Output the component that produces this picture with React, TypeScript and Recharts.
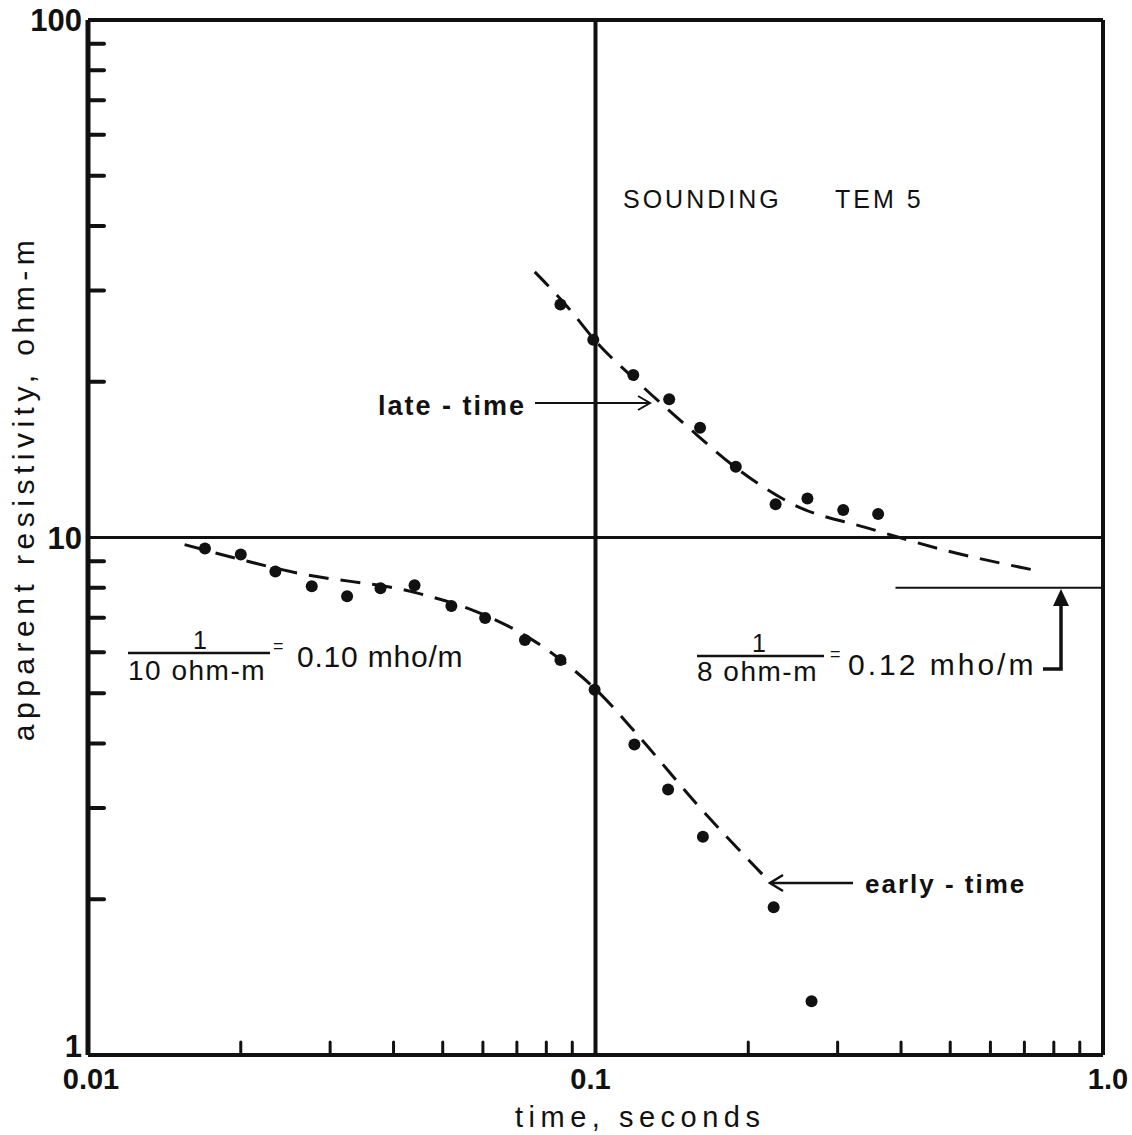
import { ComposedChart, Line, Scatter, XAxis, YAxis, ReferenceLine } from 'recharts';

// measured points, early-time apparent resistivity
const earlyT = [0.017, 0.02, 0.0234, 0.0276, 0.0324, 0.0377, 0.044, 0.052, 0.0606, 0.0726, 0.0853, 0.0996, 0.1193, 0.139, 0.1628, 0.2244, 0.2665];
const earlyRho = [9.52, 9.27, 8.6, 8.05, 7.7, 7.98, 8.09, 7.37, 6.99, 6.34, 5.8, 5.08, 3.98, 3.26, 2.64, 1.93, 1.27];

// measured points, late-time apparent resistivity
const lateT = [0.0853, 0.099, 0.1187, 0.1397, 0.1607, 0.189, 0.2264, 0.2616, 0.3077, 0.3605];
const lateRho = [28.2, 24.1, 20.6, 18.5, 16.3, 13.7, 11.6, 11.9, 11.3, 11.1];

// hand-drawn dashed fits
const earlyFitT = [0.0155, 0.026, 0.0448, 0.0587, 0.0736, 0.0881, 0.1003, 0.1209, 0.1585, 0.2174];
const earlyFitRho = [9.69, 8.53, 7.8, 7.17, 6.42, 5.67, 5.08, 4.16, 3.05, 2.19];
const lateFitT = [0.0759, 0.0881, 0.1003, 0.1209, 0.1515, 0.1899, 0.249, 0.3415, 0.49, 0.736];
const lateFitRho = [32.6, 27.9, 23.9, 20.0, 16.4, 13.6, 11.5, 10.45, 9.44, 8.64];

// 8 ohm-m asymptote
const asymT = [0.39, 1];
const asymRho = 8;

const xTicks = [0.01, 0.02, 0.03, 0.04, 0.05, 0.06, 0.07, 0.08, 0.09, 0.1, 0.2, 0.3, 0.4, 0.5, 0.6, 0.7, 0.8, 0.9, 1];
const yTicks = [1, 2, 3, 4, 5, 6, 7, 8, 9, 10, 20, 30, 40, 50, 60, 70, 80, 90, 100];
const xLabels: Record<string, string> = { '0.01': '0.01', '0.1': '0.1', '1': '1.0' };
const yLabels: Record<string, string> = { '1': '1', '10': '10', '100': '100' };

const zip = (ts: number[], rs: number[]) => ts.map((t, i) => ({ t, rho: rs[i] }));
const earlyPts = zip(earlyT, earlyRho);
const latePts = zip(lateT, lateRho);
const earlyFit = zip(earlyFitT, earlyFitRho);
const lateFit = zip(lateFitT, lateFitRho);

const FONT = '"Liberation Sans", Arial, sans-serif';
const INK = '#111';

function XTick({ x, y, payload }: any) {
  const label = xLabels[String(payload.value)];
  if (label) {
    const dx = payload.value === 1 ? 5 : payload.value === 0.1 ? -5 : 3;
    return (
      <text x={x + dx} y={y + 34} textAnchor="middle" fontFamily={FONT} fontWeight="bold" fontSize={29} fill={INK}>
        {label}
      </text>
    );
  }
  return <line x1={x} y1={y} x2={x} y2={y - 13} stroke={INK} strokeWidth={3} strokeLinecap="round" />;
}

function YTick({ x, y, payload }: any) {
  const label = yLabels[String(payload.value)];
  if (label) {
    const dy = payload.value === 1 ? 2 : 11;
    return (
      <text x={x - 6} y={y + dy} textAnchor="end" fontFamily={FONT} fontWeight="bold" fontSize={31} fill={INK}>
        {label}
      </text>
    );
  }
  return <line x1={x} y1={y} x2={x + 16} y2={y} stroke={INK} strokeWidth={4} strokeLinecap="round" />;
}

const Dot = (p: any) => <circle cx={p.cx} cy={p.cy} r={6} fill={INK} />;

export default function App() {
  return (
    <div style={{ position: 'absolute', left: 0, top: 0, width: 1132, height: 1135, background: '#fff' }}>
      <ComposedChart width={1132} height={1135} margin={{ top: 20, right: 29, left: 0, bottom: 0 }}>
        <XAxis
          type="number"
          dataKey="t"
          scale="log"
          domain={[0.01, 1]}
          allowDataOverflow
          ticks={xTicks}
          interval={0}
          tickSize={0}
          tickMargin={0}
          tickLine={false}
          tick={<XTick />}
          height={80}
          axisLine={{ stroke: INK, strokeWidth: 4 }}
        />
        <YAxis
          type="number"
          dataKey="rho"
          scale="log"
          domain={[1, 100]}
          allowDataOverflow
          ticks={yTicks}
          interval={0}
          tickSize={0}
          tickMargin={0}
          tickLine={false}
          tick={<YTick />}
          width={88}
          axisLine={{ stroke: INK, strokeWidth: 5 }}
        />
        <ReferenceLine y={100} stroke={INK} strokeWidth={4} />
        <ReferenceLine x={1} stroke={INK} strokeWidth={4} />
        <ReferenceLine x={0.1} stroke={INK} strokeWidth={4} />
        <ReferenceLine y={10} stroke={INK} strokeWidth={3} />
        <ReferenceLine segment={[{ x: asymT[0], y: asymRho }, { x: asymT[1], y: asymRho }]} stroke={INK} strokeWidth={2} />
        <Line data={earlyFit} dataKey="rho" type="monotone" dot={false} stroke={INK} strokeWidth={3} strokeDasharray="20 12" isAnimationActive={false} />
        <Line data={lateFit} dataKey="rho" type="monotone" dot={false} stroke={INK} strokeWidth={3} strokeDasharray="20 12" isAnimationActive={false} />
        <Scatter data={earlyPts} dataKey="rho" shape={Dot} isAnimationActive={false} />
        <Scatter data={latePts} dataKey="rho" shape={Dot} isAnimationActive={false} />
      </ComposedChart>

      {/* annotations */}
      <svg width={1132} height={1135} style={{ position: 'absolute', left: 0, top: 0, pointerEvents: 'none' }} fontFamily={FONT} fill={INK}>
        <text x={34} y={488} transform="rotate(-90 34 488)" textAnchor="middle" fontSize={30} letterSpacing={5.5}>
          apparent resistivity, ohm-m
        </text>
        <text x={515} y={1127} fontSize={29} letterSpacing={5.5}>time, seconds</text>

        <text x={623} y={208} fontSize={25} letterSpacing={3}>SOUNDING</text>
        <text x={835} y={208} fontSize={25} letterSpacing={3}>TEM 5</text>

        <text x={378} y={415} fontSize={27} fontWeight="bold" letterSpacing={2}>late - time</text>
        <line x1={535} y1={403} x2={650} y2={403} stroke={INK} strokeWidth={2} />
        <polyline points="638,396 650,403 638,410" fill="none" stroke={INK} strokeWidth={2} />

        <text x={865} y={893} fontSize={26} fontWeight="bold" letterSpacing={2}>early - time</text>
        <line x1={770} y1={883} x2={853} y2={883} stroke={INK} strokeWidth={2.5} />
        <polyline points="783,875 770,883 783,891" fill="none" stroke={INK} strokeWidth={2.5} />

        <text x={200} y={649} textAnchor="middle" fontSize={25}>1</text>
        <line x1={128} y1={653} x2={270} y2={653} stroke={INK} strokeWidth={2.5} />
        <text x={128} y={680} fontSize={28} letterSpacing={1.5}>10 ohm-m</text>
        <text x={273} y={652} fontSize={18}>=</text>
        <text x={297} y={667} fontSize={30} letterSpacing={0.8}>0.10 mho/m</text>

        <text x={759} y={652} textAnchor="middle" fontSize={25}>1</text>
        <line x1={697} y1={656} x2={824} y2={656} stroke={INK} strokeWidth={2.5} />
        <text x={697} y={681} fontSize={28} letterSpacing={1.5}>8 ohm-m</text>
        <text x={830} y={660} fontSize={18}>=</text>
        <text x={848} y={675} fontSize={30} letterSpacing={3}>0.12 mho/m</text>
        <polyline points="1043,669 1061,669 1061,604" fill="none" stroke={INK} strokeWidth={3.5} />
        <polygon points="1061,589 1053,606 1069,606" fill={INK} />
      </svg>
    </div>
  );
}
